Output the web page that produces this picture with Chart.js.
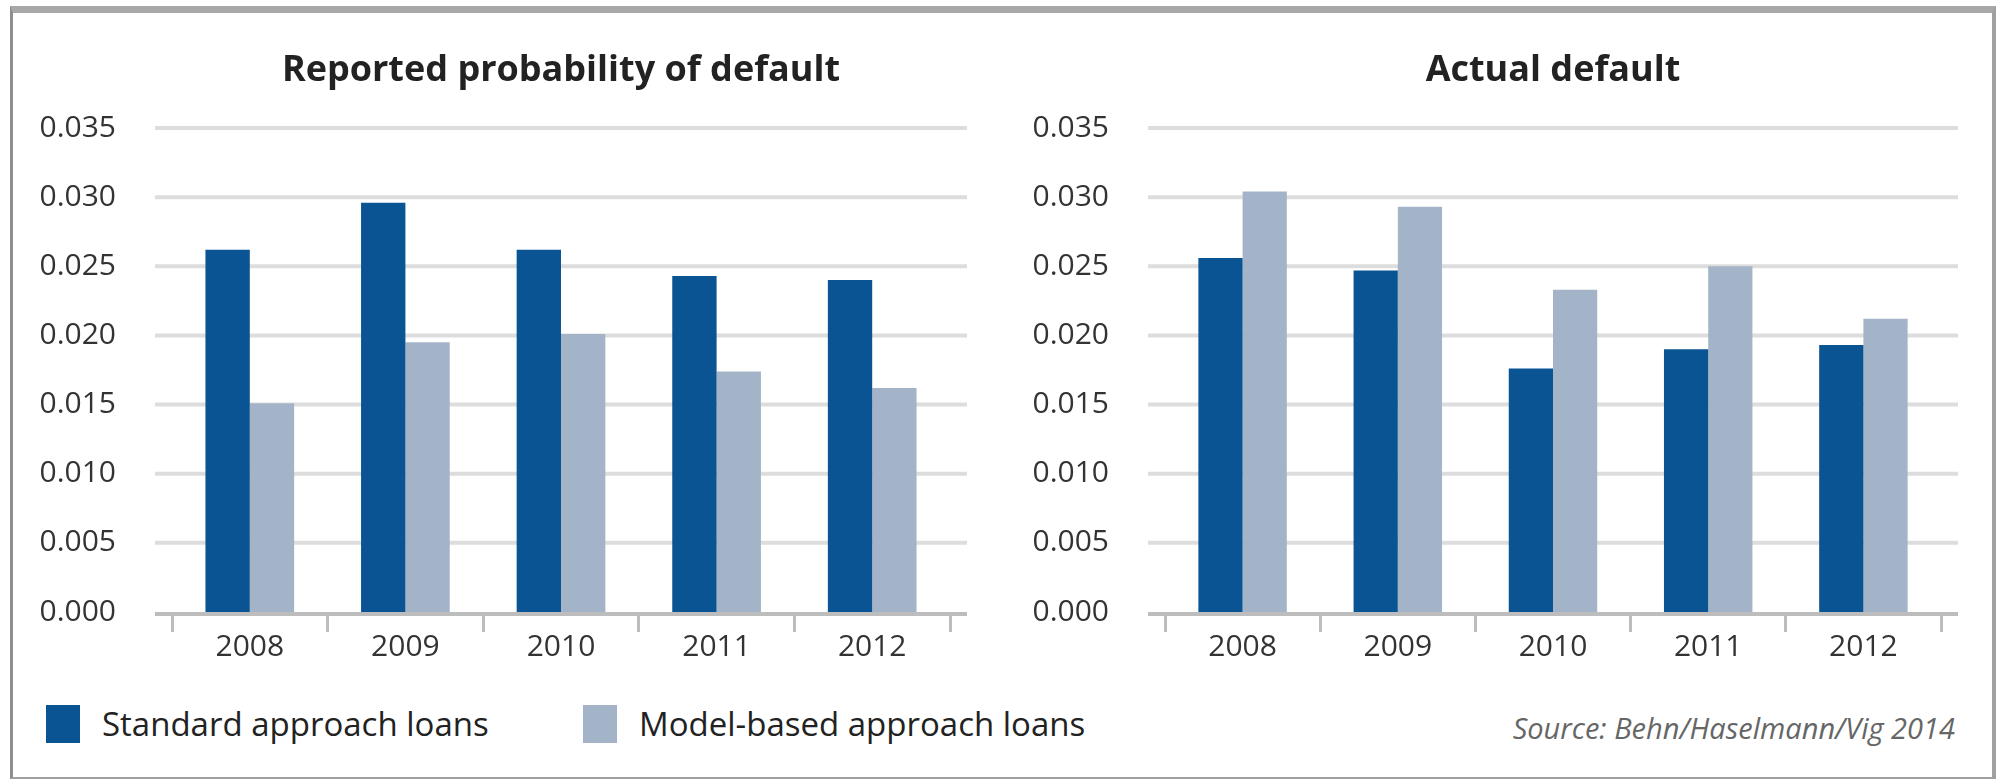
<!DOCTYPE html>
<html lang="en">
<head>
    <meta charset="UTF-8">
    <title>Reported probability of default vs actual default</title>
    <script src="https://cdn.jsdelivr.net/npm/chart.js"></script>
    <style>
        body {
            margin: 0;
            width: 2000px;
            height: 780px;
            background: #fff;
            font-family: 'Open Sans', sans-serif;
            position: relative;
            overflow: hidden;
        }

        .frame {
            position: absolute;
            left: 10px;
            top: 6px;
            width: 1979px;
            height: 764px;
            border-top: 7px solid #a8a8a8;
            border-left: 3px solid #8e8e8e;
            border-right: 4px solid #a0a0a0;
            border-bottom: 2px solid #a0a0a0;
        }

        canvas {
            position: absolute;
            top: 0;
        }

        .legend-box {
            position: absolute;
            top: 705px;
            width: 34px;
            height: 38px;
        }

        .legend-text {
            position: absolute;
            top: 703px;
            font-size: 33px;
            line-height: 42px;
            color: #222;
            white-space: nowrap;
        }

        .source {
            position: absolute;
            right: 45px;
            top: 709px;
            font-size: 29px;
            line-height: 38px;
            font-style: italic;
            color: #666;
        }
    </style>
</head>
<body>
    <div class="frame"></div>
    <canvas id="reportedChart" width="1000" height="680" style="left:0"></canvas>
    <canvas id="actualChart" width="1000" height="680" style="left:1000px"></canvas>

    <div id="legend"></div>
    <div class="source">Source: Behn/Haselmann/Vig 2014</div>

    <script>
        // data
        const years = ['2008', '2009', '2010', '2011', '2012'];
        const seriesNames = ['Standard approach loans', 'Model-based approach loans'];
        const seriesColors = ['#0b5493', '#a4b4c8'];

        const reportedStandard = [0.0262, 0.0296, 0.0262, 0.0243, 0.0240];
        const reportedModel = [0.0151, 0.0195, 0.0201, 0.0174, 0.0162];
        const actualStandard = [0.0256, 0.0247, 0.0176, 0.0190, 0.0193];
        const actualModel = [0.0304, 0.0293, 0.0233, 0.0250, 0.0212];

        const yTicksMax = 0.035;
        const yTicksStep = 0.005;

        // horizontal grid lines, a bit wider than the category band
        const wideGrid = {
            id: 'wideGrid',
            beforeDatasetsDraw(chart) {
                const { ctx, chartArea, scales: { y } } = chart;
                ctx.save();
                ctx.lineWidth = 4;
                ctx.strokeStyle = '#dddddd';
                y.ticks.forEach(t => {
                    if (t.value === 0) return;
                    const py = y.getPixelForValue(t.value);
                    ctx.beginPath();
                    ctx.moveTo(chartArea.left - 17, py);
                    ctx.lineTo(chartArea.right + 17, py);
                    ctx.stroke();
                });
                ctx.restore();
            },
            afterDatasetsDraw(chart) {
                const { ctx, chartArea, scales: { y } } = chart;
                const py = y.getPixelForValue(0) + 2;
                ctx.save();
                ctx.lineWidth = 4;
                ctx.strokeStyle = '#bdbdbd';
                ctx.beginPath();
                ctx.moveTo(chartArea.left - 17, py);
                ctx.lineTo(chartArea.right + 17, py);
                ctx.stroke();
                ctx.restore();
            }
        };

        function makeChart(id, title, standard, model, axisWidth, padRight) {
            const ctx = document.getElementById(id).getContext('2d');
            return new Chart(ctx, {
                type: 'bar',
                data: {
                    labels: years,
                    datasets: [
                        { label: seriesNames[0], data: standard, backgroundColor: seriesColors[0] },
                        { label: seriesNames[1], data: model, backgroundColor: seriesColors[1] }
                    ]
                },
                options: {
                    responsive: false,
                    animation: false,
                    devicePixelRatio: 1,
                    layout: { padding: { top: 0, right: padRight, bottom: 0, left: 0 } },
                    datasets: {
                        bar: { categoryPercentage: 0.57, barPercentage: 1.0 }
                    },
                    scales: {
                        x: {
                            grid: {
                                drawOnChartArea: false,
                                drawTicks: true,
                                tickLength: 20,
                                color: '#bdbdbd',
                                lineWidth: 3
                            },
                            border: { display: false },
                            ticks: {
                                color: '#333',
                                padding: 0,
                                font: { family: 'Open Sans', size: 30, lineHeight: 1 }
                            },
                            afterFit(scale) { scale.height = 68; }
                        },
                        y: {
                            min: 0,
                            max: yTicksMax,
                            grid: { display: false },
                            border: { display: false },
                            ticks: {
                                stepSize: yTicksStep,
                                color: '#333',
                                padding: 48,
                                font: { family: 'Open Sans', size: 30 },
                                callback: v => v.toFixed(3)
                            },
                            afterFit(scale) { scale.width = axisWidth; }
                        }
                    },
                    plugins: {
                        legend: { display: false },
                        tooltip: { enabled: false },
                        title: {
                            display: true,
                            text: title,
                            fullSize: false,
                            color: '#222',
                            font: { family: 'Open Sans', size: 36, weight: 'bold', lineHeight: 1.2 },
                            padding: { top: 49, bottom: 35.8 }
                        }
                    }
                },
                plugins: [wideGrid]
            });
        }

        makeChart('reportedChart', 'Reported probability of default', reportedStandard, reportedModel, 172, 50);
        makeChart('actualChart', 'Actual default', actualStandard, actualModel, 165, 59);

        // legend along the bottom
        const legend = document.getElementById('legend');
        const boxLeft = [46, 583];
        seriesNames.forEach((name, i) => {
            const box = document.createElement('div');
            box.className = 'legend-box';
            box.style.left = boxLeft[i] + 'px';
            box.style.background = seriesColors[i];
            legend.appendChild(box);

            const txt = document.createElement('div');
            txt.className = 'legend-text';
            txt.style.left = (boxLeft[i] + 56) + 'px';
            txt.textContent = name;
            legend.appendChild(txt);
        });
    </script>
</body>
</html>
